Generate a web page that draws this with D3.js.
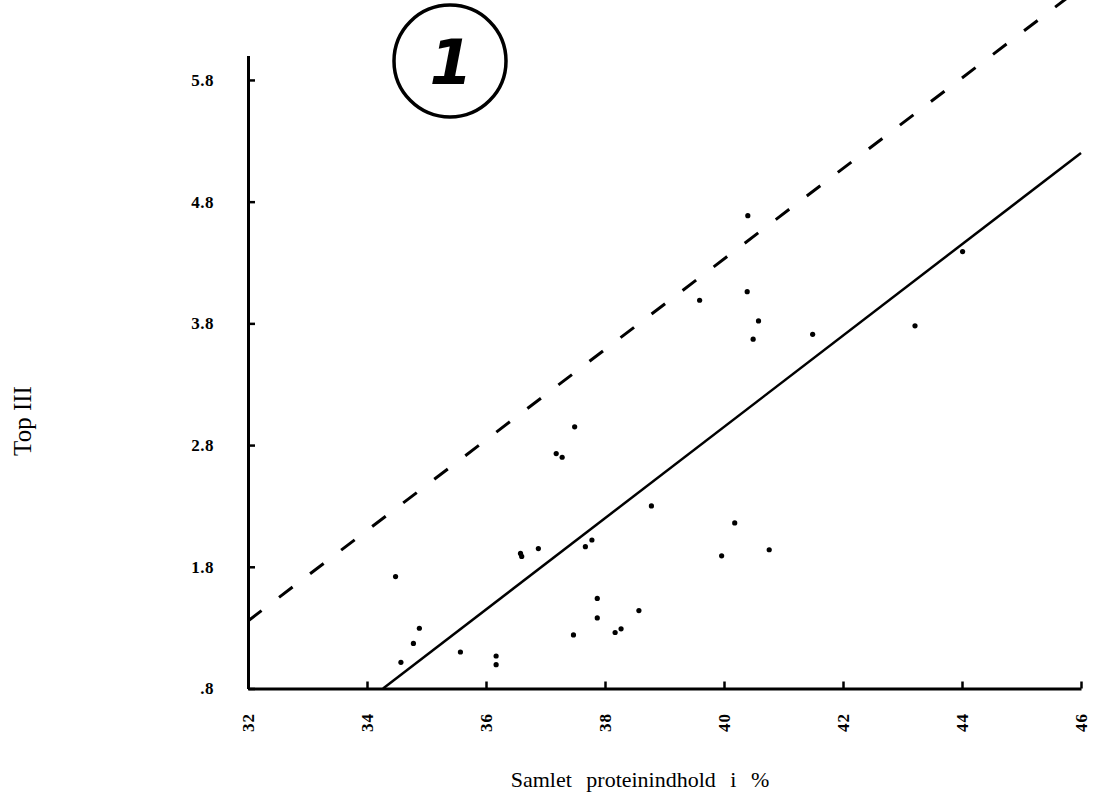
<!DOCTYPE html>
<html>
<head>
<meta charset="utf-8">
<script src="https://cdn.jsdelivr.net/npm/d3@7"></script>
<style>
  body { margin: 0; background: #fff; }
  svg { display: block; }
</style>
</head>
<body>
<div id="chart"></div>
<script>
// values
const protein = [37.49, 37.18, 37.28, 38.78, 37.78, 37.67, 36.88, 36.58, 36.60, 34.48,
                 37.87, 38.57, 37.87, 38.27, 38.17, 37.47, 34.88, 34.78, 34.57, 35.57,
                 36.17, 36.17, 40.40, 39.59, 40.39, 40.58, 40.49, 41.49, 43.21, 44.01,
                 40.18, 39.96, 40.76];
const top3 = [2.95, 2.73, 2.70, 2.30, 2.02, 1.965, 1.95, 1.91, 1.885, 1.72,
              1.54, 1.44, 1.38, 1.29, 1.26, 1.24, 1.295, 1.17, 1.015, 1.10,
              1.067, 0.996, 4.685, 3.99, 4.06, 3.82, 3.67, 3.71, 3.78, 4.39,
              2.16, 1.89, 1.94];

// regression line (solid) and upper limit (dashed), as end points
const solidX = [34.27, 46];
const solidY = [0.8, 5.2];
const dashX = [32, 46];
const dashY = [1.355, 6.56];

const xTicks = [32, 34, 36, 38, 40, 42, 44, 46];
const yTicks = [0.8, 1.8, 2.8, 3.8, 4.8, 5.8];
const yTickLabels = [".8", "1.8", "2.8", "3.8", "4.8", "5.8"];

const width = 1093;
const height = 798;

const svg = d3.select("#chart").append("svg")
    .attr("width", width)
    .attr("height", height);

const x = d3.scaleLinear()
    .domain([32, 46])
    .range([248, 1081]);

const y = d3.scaleLinear()
    .domain([0.8, 6.0])
    .range([688.5, 55.6]);

// x axis, ticks pointing up
const xAxis = svg.append("g")
    .attr("transform", `translate(0,${y(0.8)})`)
    .call(d3.axisBottom(x).tickValues(xTicks).tickSizeInner(-7).tickSizeOuter(0).tickPadding(0));
xAxis.select(".domain").attr("stroke-width", 3);
xAxis.selectAll(".tick line").attr("stroke-width", 2.5);
xAxis.selectAll(".tick text")
    .attr("transform", "translate(0,34) rotate(-90)")
    .attr("dy", "0.35em")
    .attr("y", 0)
    .attr("text-anchor", "middle")
    .style("font-family", "'Liberation Serif', serif")
    .style("font-weight", "bold")
    .style("font-size", "17px")
    .style("letter-spacing", "1px");

// y axis, ticks pointing right
const yAxis = svg.append("g")
    .attr("transform", `translate(${x(32)},0)`)
    .call(d3.axisLeft(y).tickValues(yTicks).tickSizeInner(-7).tickSizeOuter(0).tickPadding(34)
        .tickFormat((d, i) => yTickLabels[i]));
yAxis.select(".domain").attr("stroke-width", 3);
yAxis.selectAll(".tick line").attr("stroke-width", 2.5);
yAxis.selectAll(".tick text")
    .style("font-family", "'Liberation Serif', serif")
    .style("font-weight", "bold")
    .style("font-size", "17px")
    .style("letter-spacing", "0.5px");

const line = d3.line()
    .x(d => x(d[0]))
    .y(d => y(d[1]));

svg.append("path")
    .datum(d3.zip(dashX, dashY))
    .attr("d", line)
    .attr("fill", "none")
    .attr("stroke", "#000")
    .attr("stroke-width", 3)
    .attr("stroke-dasharray", "17,22");

svg.append("path")
    .datum(d3.zip(solidX, solidY))
    .attr("d", line)
    .attr("fill", "none")
    .attr("stroke", "#000")
    .attr("stroke-width", 2.5);

svg.append("g")
    .selectAll("circle")
    .data(d3.zip(protein, top3))
    .enter()
    .append("circle")
    .attr("cx", d => x(d[0]))
    .attr("cy", d => y(d[1]))
    .attr("r", 2.6)
    .attr("fill", "#000");

// circled number
svg.append("circle")
    .attr("cx", 450)
    .attr("cy", 61)
    .attr("r", 56)
    .attr("fill", "none")
    .attr("stroke", "#000")
    .attr("stroke-width", 3.5);
svg.append("text")
    .attr("x", 451)
    .attr("y", 84)
    .attr("text-anchor", "middle")
    .style("font-family", "'DejaVu Sans', sans-serif")
    .style("font-weight", "bold")
    .style("font-style", "italic")
    .style("font-size", "62px")
    .text("1");

// axis titles
svg.append("text")
    .attr("x", 640)
    .attr("y", 787)
    .attr("text-anchor", "middle")
    .style("font-family", "'Liberation Serif', serif")
    .style("font-size", "22px")
    .style("word-spacing", "9px")
    .text("Samlet proteinindhold i %");

svg.append("text")
    .attr("transform", "translate(31,421) rotate(-90)")
    .attr("text-anchor", "middle")
    .style("font-family", "'Liberation Serif', serif")
    .style("font-size", "25px")
    .text("Top III");
</script>
</body>
</html>
